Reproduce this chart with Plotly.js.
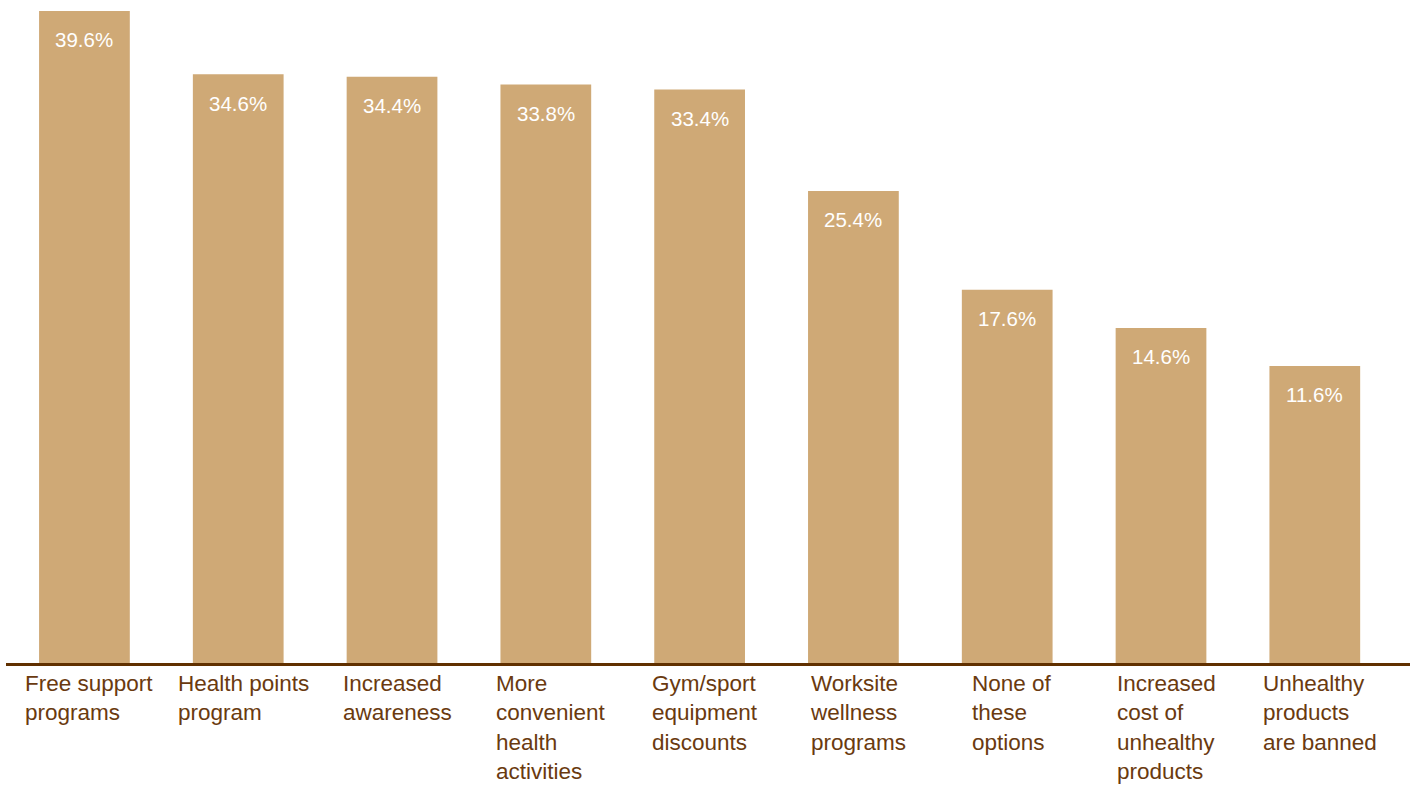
<!DOCTYPE html>
<html>
<head>
<meta charset="utf-8">
<script src="https://cdn.plot.ly/plotly-3.0.1.min.js"></script>
<style>html,body{margin:0;padding:0;background:#fff;}#chart{width:1412px;height:787px;}</style>
</head>
<body>
<div id="chart"></div>
<script>
const categories = ["Free support programs","Health points program","Increased awareness","More convenient health activities","Gym/sport equipment discounts","Worksite wellness programs","None of these options","Increased cost of unhealthy products","Unhealthy products are banned"];
const tickLabels = ["Free support<br>programs","Health points<br>program","Increased<br>awareness","More<br>convenient<br>health<br>activities","Gym/sport<br>equipment<br>discounts","Worksite<br>wellness<br>programs","None of<br>these<br>options","Increased<br>cost of<br>unhealthy<br>products","Unhealthy<br>products<br>are banned"];
const values = [39.6, 34.6, 34.4, 33.8, 33.4, 25.4, 17.6, 14.6, 11.6];
const valueLabels = values.map(v => v.toFixed(1) + "%");

const BASE = -11.83;
const FONT = "Liberation Sans, Arial, Helvetica, sans-serif";

const trace = {
  type: "bar",
  x: categories,
  y: values.map(v => v - BASE),
  base: BASE,
  width: 0.59,
  marker: {color: "#cfa976"},
  hoverinfo: "skip"
};

const annotations = [];
categories.forEach((c, i) => {
  annotations.push({
    x: c, y: values[i], xref: "x", yref: "y",
    text: valueLabels[i], showarrow: false,
    yanchor: "middle", yshift: -29,
    font: {family: FONT, size: 20.5, color: "#ffffff"}
  });
  annotations.push({
    x: c, y: 0, xref: "x", yref: "paper",
    text: tickLabels[i], showarrow: false,
    xanchor: "center", yanchor: "top", align: "left",
    xshift: 5, yshift: -7, borderpad: 0,
    font: {family: FONT, size: 22.5, color: "#6a3a0f"}
  });
});

const layout = {
  width: 1412, height: 787,
  margin: {l: 6, r: 2, t: 0, b: 124},
  paper_bgcolor: "#ffffff", plot_bgcolor: "#ffffff",
  showlegend: false,
  xaxis: {
    type: "category",
    range: [-0.51, 8.619],
    showticklabels: false, ticks: "",
    showline: true, linecolor: "#603000", linewidth: 3,
    showgrid: false, zeroline: false, fixedrange: true
  },
  yaxis: {
    range: [BASE, 40.46],
    visible: false, showgrid: false, zeroline: false, fixedrange: true
  },
  annotations: annotations
};

Plotly.newPlot("chart", [trace], layout, {staticPlot: true, displayModeBar: false});
</script>
</body>
</html>
